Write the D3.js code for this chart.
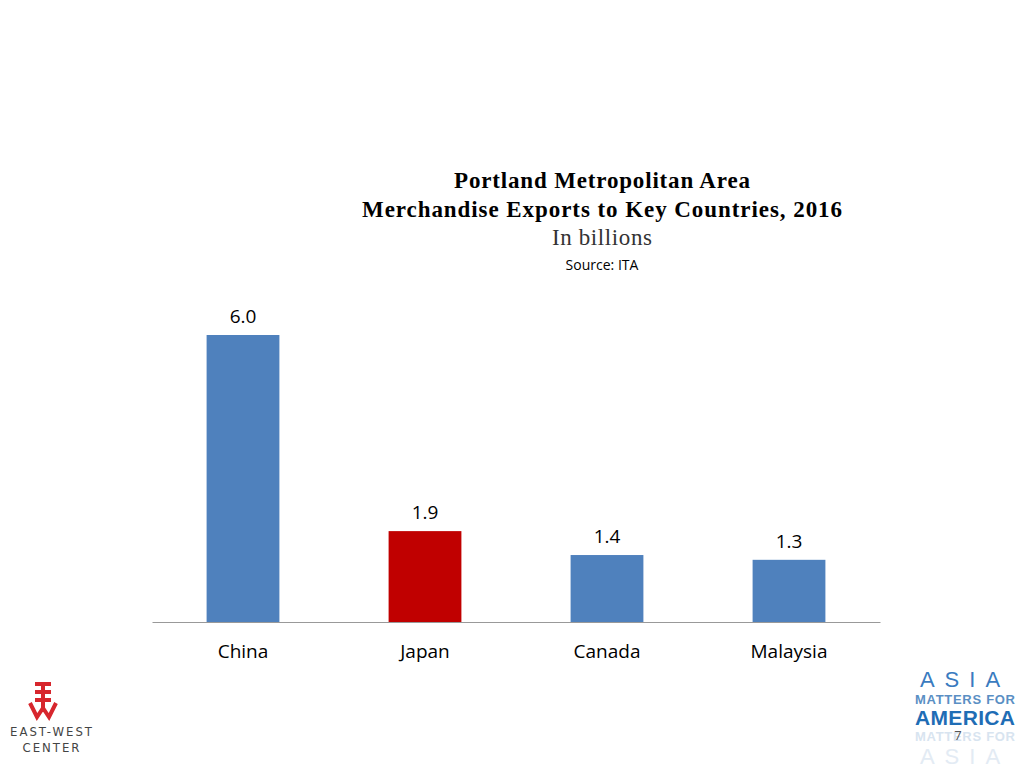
<!DOCTYPE html>
<html><head><meta charset="utf-8">
<script src="https://cdn.jsdelivr.net/npm/d3@7"></script>
<style>body{margin:0;background:#fff}</style></head>
<body><svg id="c" width="1024" height="768"></svg>
<script>
const categories=["China","Japan","Canada","Malaysia"];
const values=[6.0,1.9,1.4,1.3];
const colors=["#4f81bd","#c00000","#4f81bd","#4f81bd"];
const svg=d3.select("#c");
const x=d3.scaleBand().domain(categories).range([152,880]).paddingInner(0.6).paddingOuter(0.3);
const y=d3.scaleLinear().domain([0,6]).range([622,335]);
const t=svg.append("g").attr("text-anchor","middle").attr("font-family","Liberation Serif, serif");
t.append("text").attr("x",602).attr("y",188).attr("font-size",23).attr("font-weight","bold").attr("textLength",296).text("Portland Metropolitan Area");
t.append("text").attr("x",602).attr("y",217).attr("font-size",23).attr("font-weight","bold").attr("textLength",480).text("Merchandise Exports to Key Countries, 2016");
t.append("text").attr("x",602).attr("y",245).attr("font-size",23).attr("fill","#333").attr("textLength",100).text("In billions");
t.append("text").attr("x",602).attr("y",270).attr("font-size",14).attr("font-family","Open Sans, sans-serif").text("Source: ITA");
svg.selectAll("rect.b").data(values).join("rect").attr("class","b")
 .attr("x",(d,i)=>x(categories[i])).attr("width",x.bandwidth())
 .attr("y",d=>y(d)).attr("height",d=>y(0)-y(d)).attr("fill",(d,i)=>colors[i]);
svg.selectAll("text.v").data(values).join("text").attr("class","v")
 .attr("x",(d,i)=>x(categories[i])+x.bandwidth()/2).attr("y",d=>y(d)-12)
 .attr("text-anchor","middle").attr("font-family","Open Sans, sans-serif").attr("font-size",19).text(d=>d.toFixed(1));
const ax=svg.append("g").attr("transform","translate(0,622)").call(d3.axisBottom(x).tickSize(0).tickPadding(23));
ax.select(".domain").attr("stroke","#999");
ax.selectAll("text").attr("font-family","Open Sans, sans-serif").attr("font-size",19).attr("fill","#000");
const l=svg.append("g");
l.append("g").attr("fill","none").attr("stroke","#d7262d").attr("stroke-width",4).call(g=>{
 g.append("line").attr("x1",43).attr("x2",43).attr("y1",682).attr("y2",712);
 [684,692,700].forEach(yy=>g.append("line").attr("x1",35).attr("x2",51).attr("y1",yy).attr("y2",yy));
 g.append("polyline").attr("points","30,703 37,717 43,708 49,717 56,703");
});
l.append("text").attr("x",52).attr("y",736).attr("text-anchor","middle").attr("font-family","DejaVu Sans Condensed, sans-serif").attr("font-size",13).attr("letter-spacing",2).attr("fill","#444").text("EAST-WEST");
l.append("text").attr("x",52).attr("y",752).attr("text-anchor","middle").attr("font-family","DejaVu Sans Condensed, sans-serif").attr("font-size",13).attr("letter-spacing",2).attr("fill","#444").text("CENTER");
const r=l.append("g").attr("font-family","Liberation Sans Narrow, Liberation Sans, sans-serif").attr("text-anchor","middle");
r.append("text").attr("x",965).attr("y",687).attr("font-size",22).attr("letter-spacing",10).attr("fill","#3a7bbf").text("ASIA");
r.append("text").attr("x",965).attr("y",704).attr("font-size",13).attr("font-weight","bold").attr("fill","#5a8fc4").attr("textLength",100).text("MATTERS FOR");
r.append("text").attr("x",965).attr("y",725).attr("font-size",21).attr("font-weight","bold").attr("fill","#1f6db5").attr("textLength",100).text("AMERICA");
r.append("text").attr("x",965).attr("y",741).attr("font-size",13).attr("font-weight","bold").attr("fill","#d8e4f0").attr("textLength",100).text("MATTERS FOR");
r.append("text").attr("x",965).attr("y",764).attr("font-size",22).attr("letter-spacing",10).attr("fill","#e3ebf4").text("ASIA");
svg.append("text").attr("x",958).attr("y",740).attr("text-anchor","middle").attr("font-family","Open Sans, sans-serif").attr("font-size",13).attr("fill","#555").text("7");
</script></body></html>
